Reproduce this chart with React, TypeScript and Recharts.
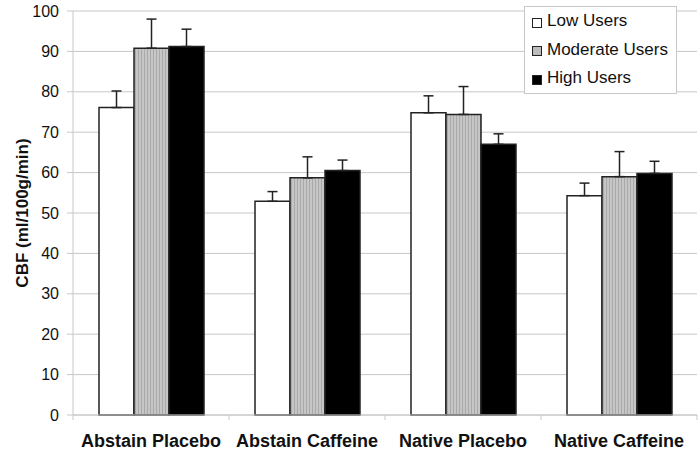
import React from 'react'
import { BarChart, Bar, XAxis, YAxis, CartesianGrid, ErrorBar } from 'recharts'

const categories = ['Abstain Placebo', 'Abstain Caffeine', 'Native Placebo', 'Native Caffeine']
const lowUsers = [76.1, 52.9, 74.8, 54.3]
const moderateUsers = [90.8, 58.7, 74.4, 59.0]
const highUsers = [91.2, 60.5, 67.0, 59.8]
// upper error bars only (SE)
const lowErr = [4.1, 2.4, 4.2, 3.1]
const moderateErr = [7.2, 5.2, 6.9, 6.2]
const highErr = [4.3, 2.6, 2.6, 3.0]
const yTicks = [0, 10, 20, 30, 40, 50, 60, 70, 80, 90, 100]

const data = categories.map((name, i) => ({
  name,
  low: lowUsers[i],
  moderate: moderateUsers[i],
  high: highUsers[i],
  lowErr: [0, lowErr[i]],
  moderateErr: [0, moderateErr[i]],
  highErr: [0, highErr[i]],
}))

const FONT = '"Liberation Sans", Arial, sans-serif'
const EDGE = '#222'
const GRID = '#c8c8c8'

const series = [
  { key: 'low', err: 'lowErr', name: 'Low Users', fill: '#ffffff' },
  { key: 'moderate', err: 'moderateErr', name: 'Moderate Users', fill: 'url(#stripes)' },
  { key: 'high', err: 'highErr', name: 'High Users', fill: '#000000' },
]

function CategoryTick(props: any) {
  const { x, y, payload, index, visibleTicksCount } = props
  const off = payload?.offset ?? 0
  const last = index === (visibleTicksCount ?? categories.length) - 1
  return (
    <g>
      <line x1={x - off} x2={x - off} y1={y} y2={y + 5} stroke={GRID} />
      {last && <line x1={x + off} x2={x + off} y1={y} y2={y + 5} stroke={GRID} />}
      <text x={x} y={y + 32} textAnchor="middle" fontFamily={FONT} fontWeight="bold" fontSize={18} fill="#111">
        {payload.value}
      </text>
    </g>
  )
}

function YLabel(props: any) {
  const vb = props.viewBox || {}
  const cy = vb.y + vb.height / 2
  return (
    <text x={22} y={cy} transform={`rotate(-90, 22, ${cy})`} textAnchor="middle" dominantBaseline="central"
      fontFamily={FONT} fontWeight="bold" fontSize={17} fill="#111">
      CBF (ml/100g/min)
    </text>
  )
}

function LegendBox() {
  return (
    <div style={{
      position: 'absolute', left: 524, top: 6, width: 153, height: 88,
      border: `1px solid ${GRID}`, background: '#fff', fontFamily: FONT, fontSize: 17, color: '#111',
      boxSizing: 'border-box',
    }}>
      {series.map((s) => (
        <div key={s.key} style={{ height: 28.5, display: 'flex', alignItems: 'center' }}>
          <svg width={10} height={10} style={{ marginLeft: 7, marginRight: 5, marginTop: 3 }}>
            <rect x={0.5} y={0.5} width={9} height={9} fill={s.fill === 'url(#stripes)' ? '#bcbcbc' : s.fill} stroke={EDGE} />
          </svg>
          <span>{s.name}</span>
        </div>
      ))}
    </div>
  )
}

export default function App() {
  return (
    <div style={{ position: 'absolute', left: 0, top: 0, width: 700, height: 453, background: '#fff' }}>
      <BarChart width={700} height={453} data={data} barCategoryGap="16.67%" barGap={0}
        margin={{ top: 11, right: 3, left: 0, bottom: 0 }}>
        <defs>
          <pattern id="stripes" patternUnits="userSpaceOnUse" width={3} height={4}>
            <rect x={0} y={0} width={3} height={4} fill="#c6c6c6" />
            <rect x={0} y={0} width={1} height={4} fill="#a9a9a9" />
          </pattern>
        </defs>
        <CartesianGrid vertical={false} stroke={GRID} />
        <XAxis dataKey="name" tickLine={false} tickSize={0} tickMargin={0} height={38}
          axisLine={{ stroke: GRID }} tick={<CategoryTick />} interval={0} />
        <YAxis domain={[0, 100]} ticks={yTicks} width={73} tickSize={6} tickMargin={8}
          axisLine={{ stroke: GRID }} tickLine={{ stroke: GRID }}
          tick={{ fontFamily: FONT, fontSize: 16, fill: '#111' }}
          label={<YLabel />} />
        <YAxis yAxisId="frame" orientation="right" width={0} domain={[0, 100]} tick={false} tickLine={false}
          axisLine={{ stroke: GRID }} />
        {series.map((s) => (
          <Bar key={s.key} dataKey={s.key} name={s.name} fill={s.fill} stroke={EDGE} strokeWidth={1.5}
            isAnimationActive={false}>
            <ErrorBar dataKey={s.err} direction="y" width={5} stroke={EDGE} strokeWidth={1.5} />
          </Bar>
        ))}
      </BarChart>
      <LegendBox />
    </div>
  )
}
